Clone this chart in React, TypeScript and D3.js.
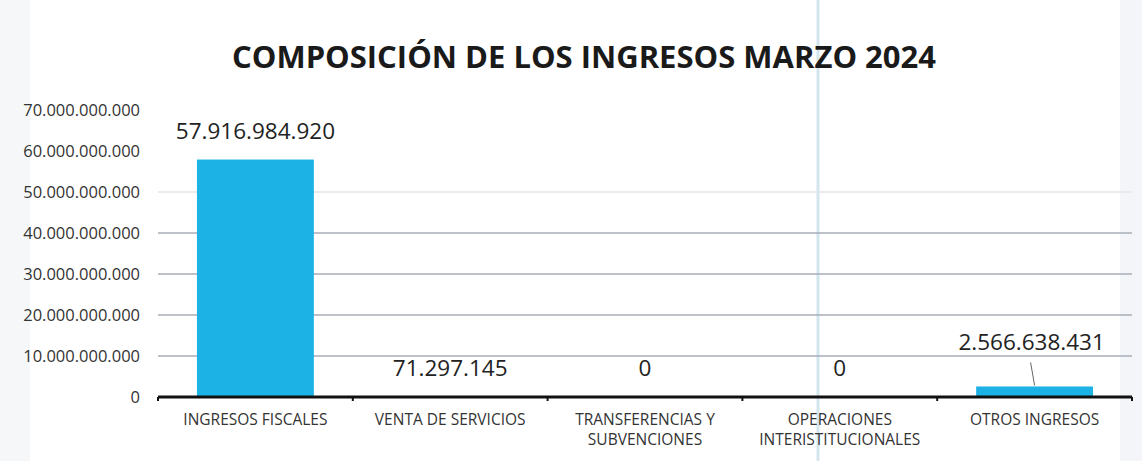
import * as d3 from "d3";
import { useEffect, useRef } from "react";

const categories = [
  ["INGRESOS FISCALES"],
  ["VENTA DE SERVICIOS"],
  ["TRANSFERENCIAS Y", "SUBVENCIONES"],
  ["OPERACIONES", "INTERISTITUCIONALES"],
  ["OTROS INGRESOS"],
];
const values = [57916984920, 71297145, 0, 0, 2566638431];
const valueLabels = ["57.916.984.920", "71.297.145", "0", "0", "2.566.638.431"];
const yTicks = [0, 10e9, 20e9, 30e9, 40e9, 50e9, 60e9, 70e9];
const title = "COMPOSICIÓN DE LOS INGRESOS MARZO 2024";

const width = 1142;
const height = 461;
const marginLeft = 158;
const marginRight = 10;
const marginTop = 110;
const marginBottom = 64;
const barColor = "#1db2e6";

const fmt = (v) => {
  if (v === 0) return "0";
  return d3.format(",")(v).replace(/,/g, ".");
};

const App = () => {
  const ref = useRef(null);

  useEffect(() => {
    const svg = d3.select(ref.current);
    svg.selectAll("*").remove();

    const xScale = d3
      .scaleBand()
      .domain(categories.map((c, i) => String(i)))
      .range([marginLeft, width - marginRight])
      .paddingInner(0.4)
      .paddingOuter(0.2);
    const yScale = d3
      .scaleLinear()
      .domain([0, 70e9])
      .range([height - marginBottom, marginTop]);

    svg.append("rect").attr("width", width).attr("height", height).attr("fill", "#ffffff");

    // scan artifacts
    svg.append("rect").attr("x", 0).attr("y", 0).attr("width", 30).attr("height", height)
      .attr("fill", "#eef1f4").attr("opacity", 0.6);
    svg.append("rect").attr("x", width - 22).attr("y", 0).attr("width", 22).attr("height", height)
      .attr("fill", "#eceff3").attr("opacity", 0.6);
    svg.append("line").attr("x1", 818).attr("x2", 818).attr("y1", 0).attr("y2", height)
      .attr("stroke", "#d3e6ee").attr("stroke-width", 3);

    // gridlines
    svg.append("g")
      .selectAll("line")
      .data(yTicks.filter((t) => t > 0 && t <= 50e9))
      .enter()
      .append("line")
      .attr("x1", marginLeft)
      .attr("x2", width - marginRight)
      .attr("y1", (d) => yScale(d))
      .attr("y2", (d) => yScale(d))
      .attr("stroke", (d) => (d === 50e9 ? "#e4e4e4" : "#a9adb8"))
      .attr("stroke-width", 1.3);

    // y tick labels
    svg.append("g")
      .selectAll("text")
      .data(yTicks)
      .enter()
      .append("text")
      .attr("x", 140)
      .attr("y", (d) => yScale(d))
      .attr("dy", "0.35em")
      .attr("text-anchor", "end")
      .attr("font-family", "Open Sans, sans-serif")
      .attr("font-size", 16.5)
      .attr("fill", "#333")
      .text((d) => fmt(d));

    // bars
    svg.append("g")
      .selectAll("rect")
      .data(values)
      .enter()
      .append("rect")
      .attr("x", (d, i) => xScale(String(i)))
      .attr("y", (d) => yScale(d))
      .attr("width", xScale.bandwidth())
      .attr("height", (d) => yScale(0) - yScale(d))
      .attr("fill", barColor);

    // x axis line
    const axisY = yScale(0);
    svg.append("line")
      .attr("x1", marginLeft)
      .attr("x2", width - marginRight)
      .attr("y1", axisY)
      .attr("y2", axisY)
      .attr("stroke", "#111")
      .attr("stroke-width", 3);
    const bounds = d3.range(categories.length + 1).map((i) => marginLeft + i * ((width - marginRight - marginLeft) / categories.length));
    svg.append("g")
      .selectAll("line")
      .data(bounds)
      .enter()
      .append("line")
      .attr("x1", (d) => d)
      .attr("x2", (d) => d)
      .attr("y1", axisY)
      .attr("y2", axisY + 4)
      .attr("stroke", "#111")
      .attr("stroke-width", 2);

    // category labels
    const cat = svg.append("g")
      .selectAll("text")
      .data(categories)
      .enter()
      .append("text")
      .attr("text-anchor", "middle")
      .attr("font-family", "Open Sans, sans-serif")
      .attr("font-size", 15.5)
      .attr("fill", "#333");
    cat.each(function (lines, i) {
      const t = d3.select(this);
      lines.forEach((l, j) => {
        t.append("tspan")
          .attr("x", xScale(String(i)) + xScale.bandwidth() / 2)
          .attr("y", axisY + 28 + j * 20)
          .text(l);
      });
    });

    // value labels
    const last = values.length - 1;
    svg.append("g")
      .selectAll("text")
      .data(values)
      .enter()
      .append("text")
      .attr("x", (d, i) => xScale(String(i)) + xScale.bandwidth() / 2 - (i === last ? 3 : 0))
      .attr("y", (d, i) => (i === last ? yScale(d) - 36 : yScale(d) - 21))
      .attr("text-anchor", "middle")
      .attr("font-family", "Open Sans, sans-serif")
      .attr("font-size", 22.5)
      .attr("fill", "#222")
      .text((d, i) => valueLabels[i]);

    // leader line for last label
    const lx = xScale(String(last)) + xScale.bandwidth() / 2;
    svg.append("line")
      .attr("x1", lx - 4)
      .attr("x2", lx)
      .attr("y1", yScale(values[last]) - 24)
      .attr("y2", yScale(values[last]) - 1)
      .attr("stroke", "#666")
      .attr("stroke-width", 1);

    // title
    svg.append("text")
      .attr("x", 584)
      .attr("y", 68)
      .attr("text-anchor", "middle")
      .attr("font-family", "Open Sans, sans-serif")
      .attr("font-weight", 700)
      .attr("font-size", 31)
      .attr("fill", "#1a1a1a")
      .text(title);
  }, []);

  return (
    <svg
      ref={ref}
      width={width}
      height={height}
      style={{ position: "absolute", left: 0, top: 0 }}
    ></svg>
  );
};

export default App;
